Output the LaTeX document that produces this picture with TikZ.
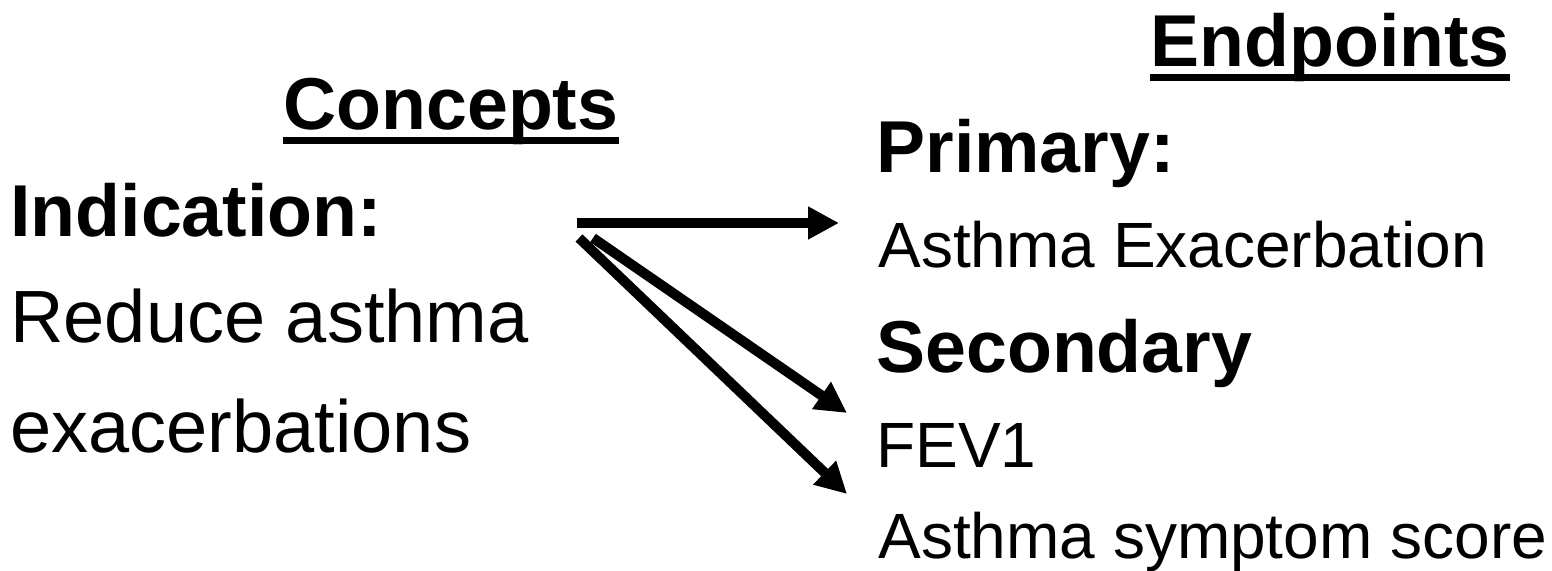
\documentclass[tikz,border=0pt]{standalone}
\usepackage{fontspec}
\setmainfont{Liberation Sans}
\usetikzlibrary{arrows.meta}
\newcommand{\hd}{\fontsize{36.75}{44}\selectfont\bfseries}
\newcommand{\bd}{\fontsize{32}{38}\selectfont}
\newcommand{\lb}{\fontsize{37}{44}\selectfont}

\begin{document}
\begin{tikzpicture}[x=0.5pt,y=-0.5pt,
   txt/.style={anchor=base west,inner sep=0pt},
   arr/.style={line width=5pt,-{Triangle[length=15.5pt,width=15.5pt]}},
   uline/.style={line width=3.5pt}]
   \useasboundingbox (0,0) rectangle (1552,571);
   % column titles
   \node[txt] (concepts)  at ( 283,130) {\hd Concepts};
   \node[txt] (endpoints) at (1150, 67) {\hd Endpoints};
   \draw[uline] ([yshift=-5.25pt]concepts.base west)  -- ([yshift=-5.25pt]concepts.base east);
   \draw[uline] ([yshift=-5.25pt]endpoints.base west) -- ([yshift=-5.25pt]endpoints.base east);
   % left column
   \node[txt] (indication) at (10,237) {\hd Indication:};
   \node[txt] (reduce)     at (10,343) {\lb Reduce asthma};
   \node[txt] (exacer)     at (10,452) {\lb exacerbations};
   % right column
   \node[txt] (primary)   at (876,173) {\hd Primary:};
   \node[txt] (asthmaex)  at (878,268) {\bd Asthma Exacerbation};
   \node[txt] (secondary) at (876,373) {\hd Secondary};
   \node[txt] (fev)       at (876,467) {\bd FEV1};
   \node[txt] (symptom)   at (878,558) {\bd Asthma symptom score};
   % arrows
   \coordinate (s1) at (577,223);
   \coordinate (s2) at (593,238);
   \coordinate (s3) at (579,238);
   \coordinate (t1) at (839,223);
   \coordinate (t2) at (847,413);
   \coordinate (t3) at (847,494);
   \draw[arr] (s1) -- (t1);
   \draw[arr] (s2) -- (t2);
   \draw[arr] (s3) -- (t3);
\end{tikzpicture}
\end{document}
